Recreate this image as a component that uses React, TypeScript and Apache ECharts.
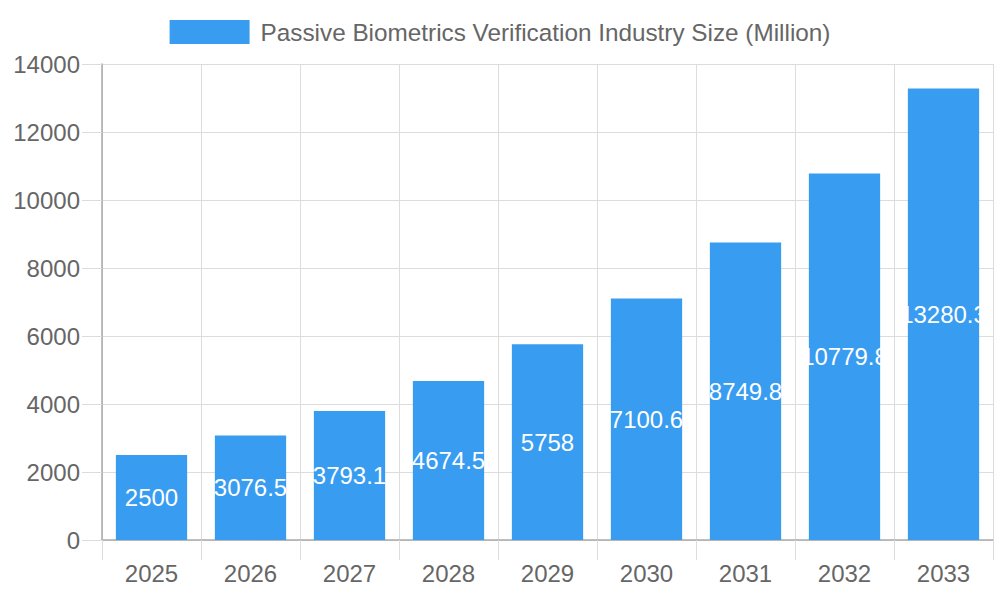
import React, { useEffect, useRef } from 'react';
import * as echarts from 'echarts';

const years = ['2025', '2026', '2027', '2028', '2029', '2030', '2031', '2032', '2033'];
const sizes = [2500, 3076.5, 3793.1, 4674.5, 5758, 7100.6, 8749.8, 10779.8, 13280.3];
const seriesName = 'Passive Biometrics Verification Industry Size (Million)';

const FONT = 'Liberation Sans, Arial, sans-serif';
const GRID = '#dcdcdc';

const App: React.FC = () => {
  const chartRef = useRef<HTMLDivElement>(null);

  useEffect(() => {
    if (!chartRef.current) return;
    const chart = echarts.init(chartRef.current, undefined, { renderer: 'svg' });

    chart.setOption({
      animation: false,
      textStyle: { fontFamily: FONT },
      legend: {
        top: 15,
        left: 'center',
        itemWidth: 80,
        itemHeight: 24,
        icon: 'rect',
        textStyle: { fontSize: 24.3, color: '#666', fontFamily: FONT, padding: [0, 0, 0, 6] },
        data: [seriesName]
      },
      grid: { left: 102, right: 7, top: 64, bottom: 60 },
      xAxis: {
        type: 'category',
        data: years,
        axisLine: { lineStyle: { color: '#aaa', width: 1.5 } },
        axisTick: { show: true, length: 20, lineStyle: { color: GRID } },
        axisLabel: { fontSize: 24, color: '#666', margin: 21, fontFamily: FONT },
        splitLine: { show: true, lineStyle: { color: GRID } }
      },
      yAxis: {
        type: 'value',
        min: 0,
        max: 14000,
        interval: 2000,
        axisLine: { show: true, lineStyle: { color: '#aaa', width: 1.5 } },
        axisTick: { show: true, length: 20, lineStyle: { color: GRID } },
        axisLabel: {
          fontSize: 24,
          color: '#666',
          margin: 22,
          fontFamily: FONT,
          formatter: (v: number) => String(v)
        },
        splitLine: { show: true, lineStyle: { color: GRID } }
      },
      series: [
        {
          name: seriesName,
          type: 'bar',
          data: sizes,
          barCategoryGap: '28%',
          itemStyle: { color: '#389cf0' },
          label: {
            show: true,
            position: 'inside',
            color: '#fff',
            fontSize: 24,
            fontFamily: FONT
          }
        }
      ]
    });

    return () => {
      chart.dispose();
    };
  }, []);

  return (
    <div
      ref={chartRef}
      style={{ position: 'fixed', left: 0, top: 0, width: '1000px', height: '600px', background: '#fff' }}
    />
  );
};

export default App;
